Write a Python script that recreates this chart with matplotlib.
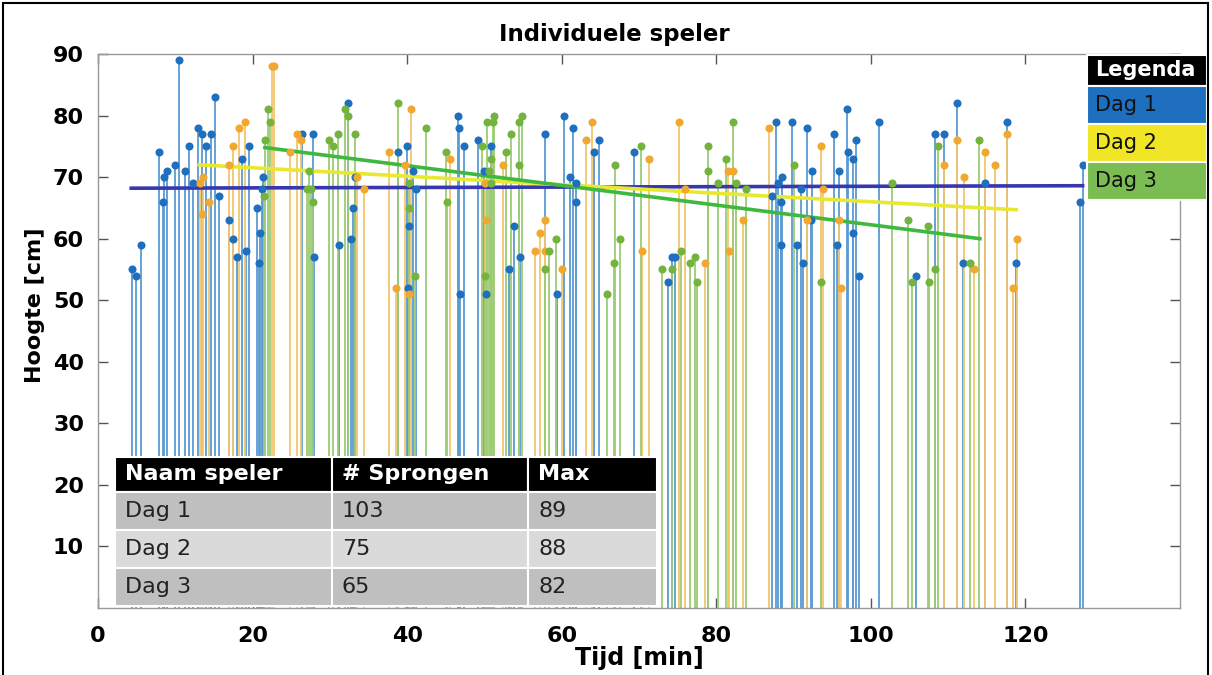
import matplotlib
matplotlib.use("Agg")
import matplotlib.pyplot as plt
from matplotlib.patches import Rectangle

# ---------------- data ----------------
day1_t = [4.4, 4.9, 5.5, 7.9, 8.4, 8.6, 8.9, 9.95, 10.5, 11.3, 11.8, 12.3, 12.9, 13.4, 14.0, 14.6,
          15.1, 15.6, 17.0, 17.5, 18.0, 18.6, 19.1, 19.6, 20.6, 20.8, 21.0, 21.4, 21.2, 26.4, 27.8,
          28.0, 31.2, 32.4, 32.8, 33.0, 33.2, 38.8, 40.0, 40.7, 41.1, 40.2, 40.1, 46.6, 46.7, 47.3,
          46.9, 49.2, 50.8, 49.9, 50.2, 53.8, 53.2, 54.6, 57.9, 59.4, 60.3, 61.5, 61.1, 61.9, 61.9,
          64.2, 64.8, 69.3, 73.7, 74.3, 74.7, 87.2, 87.7, 88.0, 88.5, 88.4, 88.4, 89.8, 90.4, 90.9,
          91.2, 91.8, 92.4, 92.3, 95.2, 95.9, 95.6, 96.9, 97.1, 97.7, 98.1, 97.7, 98.5, 101.1, 105.8,
          108.3, 109.5, 111.2, 111.9, 114.8, 117.6, 118.8, 127.1, 127.5]
day1_h = [55, 54, 59, 74, 66, 70, 71, 72, 89, 71, 75, 69, 78, 77, 75, 77,
          83, 67, 63, 60, 57, 73, 58, 75, 65, 56, 61, 70, 68, 77, 77,
          57, 59, 82, 60, 65, 70, 74, 75, 71, 68, 62, 52, 80, 78, 75,
          51, 76, 75, 71, 51, 62, 55, 57, 77, 51, 80, 78, 70, 69, 66,
          74, 76, 74, 53, 57, 57, 67, 79, 69, 70, 66, 59, 79, 59, 68,
          56, 78, 71, 63, 77, 71, 59, 81, 74, 73, 76, 61, 54, 79, 54,
          77, 77, 82, 56, 69, 79, 56, 66, 72]

day2_t = [13.2, 13.6, 13.4, 14.3, 17.0, 17.5, 18.2, 19.0, 22.5, 22.8, 24.9, 25.8, 26.3, 33.5, 34.4,
          37.7, 38.5, 39.7, 40.5, 40.3, 45.6, 50.1, 50.2, 52.4, 56.5, 57.2, 57.9, 57.9, 60.0, 63.2,
          63.9, 70.4, 71.3, 75.2, 76.0, 78.6, 81.5, 82.1, 81.6, 83.5, 86.8, 91.8, 93.6, 93.8, 95.9,
          96.1, 109.5, 111.1, 112.0, 113.4, 114.8, 116.0, 117.6, 118.4, 118.9]
day2_h = [69, 70, 64, 66, 72, 75, 78, 79, 88, 88, 74, 77, 76, 70, 68,
          74, 52, 72, 81, 51, 73, 69, 63, 72, 58, 61, 63, 58, 55, 76,
          79, 58, 73, 79, 68, 56, 71, 71, 58, 63, 78, 63, 75, 68, 63,
          52, 72, 76, 70, 55, 74, 72, 77, 52, 60]

day3_t = [21.5, 21.6, 22.0, 22.2, 27.3, 27.1, 27.6, 27.8, 29.9, 30.4, 31.1, 31.9, 32.3, 33.2, 38.8,
          40.2, 40.3, 41.0, 42.5, 45.0, 45.1, 49.7, 50.3, 51.2, 51.1, 50.8, 50.6, 50.9, 50.1, 52.8,
          53.5, 54.5, 54.5, 54.9, 58.4, 57.9, 59.2, 66.9, 66.8, 67.6, 65.8, 70.2, 73.0, 74.3, 75.4,
          76.6, 77.2, 77.5, 78.9, 78.9, 80.2, 81.2, 82.2, 82.5, 83.9, 90.1, 93.6, 102.8, 104.8, 105.3,
          107.4, 107.5, 108.3, 108.7, 112.8, 114.0]
day3_h = [67, 76, 81, 79, 71, 68, 68, 66, 76, 75, 77, 81, 80, 77, 82,
          69, 65, 54, 78, 74, 66, 75, 79, 80, 79, 73, 71, 69, 54, 74,
          77, 72, 79, 80, 58, 55, 60, 72, 56, 60, 51, 75, 55, 55, 58,
          56, 57, 53, 75, 71, 69, 73, 79, 69, 68, 72, 53, 69, 63, 53,
          62, 53, 55, 75, 56, 76]

# trend lines (start/end time, start/end height)
trend_t = [[4.3, 127.4], [13.1, 118.8], [21.6, 114.1]]
trend_h = [[68.2, 68.6], [72.0, 64.7], [74.8, 60.0]]

series_names = ["Dag 1", "Dag 2", "Dag 3"]
table_header = ["Naam speler", "# Sprongen", "Max"]
table_rows = [["Dag 1", "103", "89"], ["Dag 2", "75", "88"], ["Dag 3", "65", "82"]]
x_ticks = [0, 20, 40, 60, 80, 100, 120]
y_ticks = [10, 20, 30, 40, 50, 60, 70, 80, 90]

# ---------------- styles ----------------
W, H = 1212, 675
marker_cols = ["#1f6fbf", "#f0a830", "#74b33e"]
stem_cols = ["#5a9bd3", "#f2c66e", "#9ccb74"]
trend_cols = ["#3737b0", "#e8e830", "#3fb83f"]
legend_cols = ["#1e6fc0", "#f0e626", "#7bbd53"]

fig = plt.figure(figsize=(W / 100, H / 100), dpi=100)
ax = fig.add_axes([98 / W, 1 - 608 / H, (1180 - 98) / W, (608 - 54) / H])

series = [(day1_t, day1_h), (day2_t, day2_h), (day3_t, day3_h)]
for i, (t, h) in enumerate(series):
    ax.vlines(t, 0, h, colors=stem_cols[i], lw=1.3, zorder=2 + i * 0.1)
for i in range(3):
    ax.plot(trend_t[i], trend_h[i], color=trend_cols[i], lw=2.6, zorder=3)
for i, (t, h) in enumerate(series):
    ax.plot(t, h, 'o', color=marker_cols[i], ms=5.8, mec='none', zorder=4 + i * 0.1)

ax.set_xlim(0, 140)
ax.set_ylim(0, 90)
ax.set_xticks(x_ticks)
ax.set_yticks(y_ticks)
for lab in ax.get_xticklabels() + ax.get_yticklabels():
    lab.set_fontweight('bold')
    lab.set_fontsize(16)
ax.tick_params(direction='in', length=7, width=1, color='#555555', top=True, right=True,
               pad=10)
ax.tick_params(axis='x', pad=13)
for s in ax.spines.values():
    s.set_color('#999999')
    s.set_linewidth(1)

ax.set_xlabel("Tijd [min]", fontsize=17, fontweight='bold', labelpad=0)
ax.set_ylabel("Hoogte [cm]", fontsize=16, fontweight='bold')
ax.yaxis.set_label_coords(-0.049, (608 - 305) / (608 - 54))
fig.text(614 / W, 1 - 35 / H, "Individuele speler", ha='center', va='center',
         fontsize=16.5, fontweight='bold')

# ---------------- table ----------------
def px_rect(x0, y0, x1, y1, color):
    fig.patches.append(Rectangle((x0 / W, 1 - y1 / H), (x1 - x0) / W, (y1 - y0) / H,
                                 transform=fig.transFigure, facecolor=color,
                                 edgecolor='white', lw=1.5, zorder=10))

col_edges = [115, 332, 528, 657]
row_edges = [457, 492, 530, 568, 606]
row_fill = ["#000000", "#bfbfbf", "#dadada", "#bfbfbf"]
all_rows = [table_header] + table_rows
for r, row in enumerate(all_rows):
    for c, txt in enumerate(row):
        px_rect(col_edges[c], row_edges[r], col_edges[c + 1], row_edges[r + 1], row_fill[r])
        fig.text((col_edges[c] + 10) / W, 1 - (row_edges[r] + row_edges[r + 1]) / 2 / H, txt,
                 ha='left', va='center', fontsize=16,
                 color='white' if r == 0 else '#222222',
                 fontweight='bold' if r == 0 else 'normal', zorder=11)

# ---------------- legend ----------------
leg_x = [1087, 1207]
leg_y = [55, 86, 124, 162, 200]
leg_fill = ["#000000"] + legend_cols
leg_text = ["Legenda"] + series_names
for r in range(4):
    px_rect(leg_x[0], leg_y[r], leg_x[1], leg_y[r + 1], leg_fill[r])
    fig.text((leg_x[0] + 8) / W, 1 - (leg_y[r] + leg_y[r + 1]) / 2 / H, leg_text[r],
             ha='left', va='center', fontsize=15,
             color='white' if r == 0 else '#111111',
             fontweight='bold' if r == 0 else 'normal', zorder=11)

# outer frame
fig.patches.append(Rectangle((3 / W, -0.01), (1208 - 3) / W, 1.005, transform=fig.transFigure,
                             fill=False, edgecolor='black', lw=1.5, zorder=20))

fig.savefig("out.png", dpi=100)
